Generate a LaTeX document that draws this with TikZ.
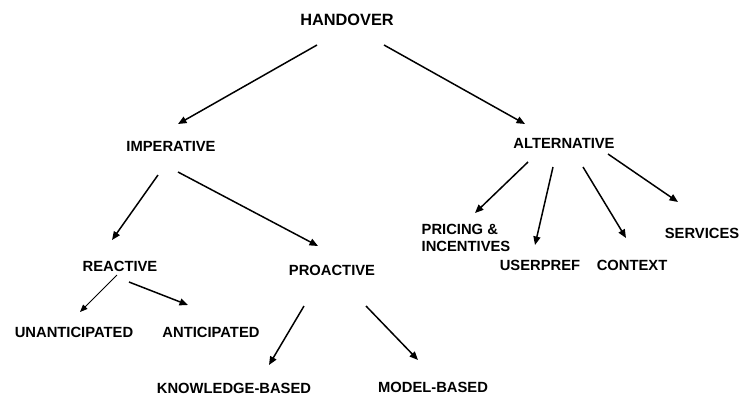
\documentclass[tikz,border=0pt]{standalone}
\usepackage{fontspec}
\setmainfont{Liberation Sans}
\usetikzlibrary{arrows.meta}

\tikzset{
  term/.style={inner sep=0pt, font=\fontsize{8.4}{10}\selectfont\bfseries},
  arr/.style={line width=0.85pt, -{Triangle[length=1.7mm,width=1.4mm]}},
  thinarr/.style={line width=0.45pt, -{Triangle[length=1.5mm,width=1.2mm]}}
}

\begin{document}
\begin{tikzpicture}[x=0.02cm, y=-0.02cm]
			%%%%% START %%%%%
			\useasboundingbox (0, 0) rectangle (749, 399);
			
			\node[term, font=\fontsize{9.3}{11}\selectfont\bfseries] (handover) at (347, 20) {HANDOVER};
			
			\node[term] (imperative) at (171, 146) {IMPERATIVE};
			\node[term] (alternative) at (564, 143) {ALTERNATIVE};
			
			\node[term] (reactive) at (120, 266) {REACTIVE};
			\node[term] (proactive) at (332, 270) {PROACTIVE};
			
			\node[term] (unanticipated) at (74, 332) {UNANTICIPATED};
			\node[term] (anticipated) at (211, 332) {ANTICIPATED};
			\node[term] (knowledge) at (234, 388) {KNOWLEDGE-BASED};
			\node[term] (model) at (433, 387) {MODEL-BASED};
			
			\node[term, align=left] (pricing) at (466, 238) {PRICING \&\\INCENTIVES};
			\node[term] (userpref) at (540, 265) {USERPREF};
			\node[term] (context) at (632, 265) {CONTEXT};
			\node[term] (services) at (702, 233) {SERVICES};
			
			\draw[arr] ([shift={(-30, 25)}]handover.center) -- ([shift={(7, -22)}]imperative.center);
			\draw[arr] ([shift={(37, 25)}]handover.center) -- ([shift={(-39, -19)}]alternative.center);
			
			\draw[arr] ([shift={(-13, 29)}]imperative.center) -- ([shift={(-8, -26)}]reactive.center);
			\draw[arr] ([shift={(7, 26)}]imperative.center) -- ([shift={(-14, -24)}]proactive.center);
			
			\draw[thinarr] ([shift={(-3, 9)}]reactive.center) -- ([shift={(6, -20)}]unanticipated.center);
			\draw[arr] ([shift={(9, 16)}]reactive.center) -- ([shift={(-23, -27)}]anticipated.center);
			
			\draw[arr] ([shift={(-28, 36)}]proactive.center) -- ([shift={(35, -23)}]knowledge.center);
			\draw[arr] ([shift={(34, 36)}]proactive.center) -- ([shift={(-15, -27)}]model.center);
			
			\draw[arr] ([shift={(-36, 19)}]alternative.center) -- ([shift={(9, -25)}]pricing.center);
			\draw[arr] ([shift={(-11, 24)}]alternative.center) -- ([shift={(-5, -20)}]userpref.center);
			\draw[arr] ([shift={(19, 24)}]alternative.center) -- ([shift={(-6, -27)}]context.center);
			\draw[arr] ([shift={(44, 11)}]alternative.center) -- ([shift={(-24, -31)}]services.center);
			
			%%%%% END %%%%%
		\end{tikzpicture}
\end{document}
